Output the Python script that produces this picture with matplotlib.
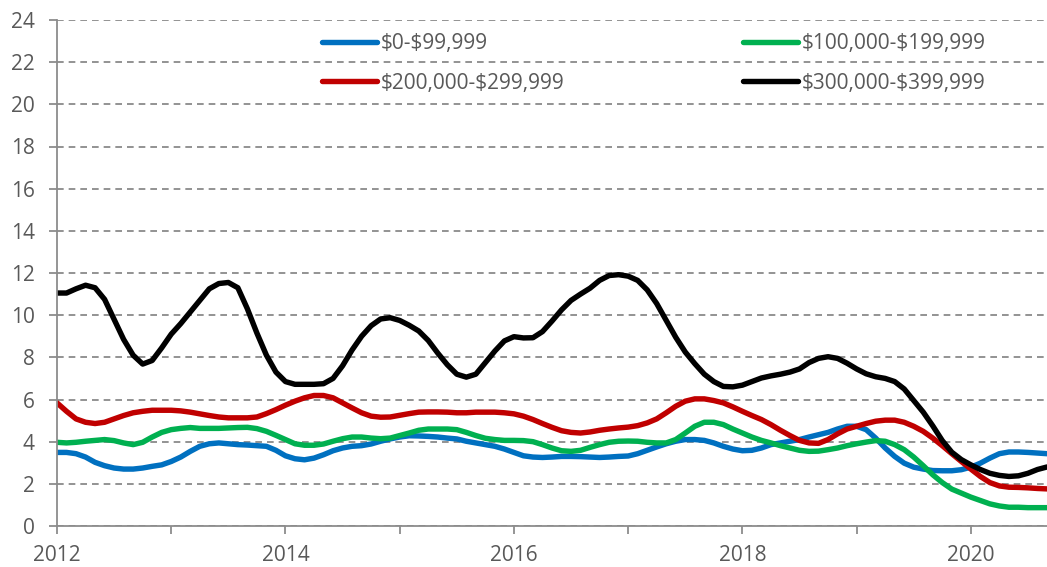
import matplotlib
matplotlib.use("Agg")
import matplotlib.pyplot as plt
import numpy as np
from matplotlib.ticker import MultipleLocator, FixedLocator

# monthly values, Jan 2012 .. Sep 2020
start_year = 2012
labels = ["$0-$99,999", "$100,000-$199,999", "$200,000-$299,999", "$300,000-$399,999"]

blue = [3.49, 3.49, 3.43, 3.27, 3.02, 2.86, 2.75, 2.70, 2.70, 2.75, 2.83, 2.90,
        3.06, 3.27, 3.54, 3.78, 3.90, 3.94, 3.90, 3.86, 3.84, 3.81, 3.78, 3.59,
        3.33, 3.19, 3.14, 3.22, 3.38, 3.57, 3.70, 3.78, 3.81, 3.89, 4.02, 4.13,
        4.22, 4.28, 4.27, 4.25, 4.22, 4.17, 4.13, 4.02, 3.94, 3.86, 3.78, 3.65,
        3.49, 3.33, 3.27, 3.25, 3.27, 3.30, 3.30, 3.29, 3.27, 3.25, 3.27, 3.30,
        3.32, 3.43, 3.59, 3.75, 3.90, 4.02, 4.10, 4.10, 4.06, 3.94, 3.78, 3.65,
        3.57, 3.59, 3.70, 3.86, 3.94, 4.02, 4.10, 4.22, 4.33, 4.44, 4.60, 4.73,
        4.73, 4.57, 4.17, 3.70, 3.30, 2.98, 2.79, 2.70, 2.63, 2.62, 2.62, 2.67,
        2.79, 2.98, 3.22, 3.43, 3.51, 3.51, 3.49, 3.46, 3.43]

green = [3.97, 3.94, 3.97, 4.02, 4.06, 4.10, 4.05, 3.94, 3.86, 3.97, 4.22, 4.44,
         4.57, 4.63, 4.67, 4.63, 4.63, 4.63, 4.65, 4.67, 4.68, 4.62, 4.49, 4.30,
         4.10, 3.90, 3.83, 3.83, 3.89, 4.02, 4.14, 4.22, 4.22, 4.17, 4.14, 4.17,
         4.29, 4.41, 4.54, 4.60, 4.60, 4.60, 4.57, 4.44, 4.29, 4.16, 4.10, 4.06,
         4.06, 4.05, 4.00, 3.86, 3.70, 3.57, 3.54, 3.59, 3.73, 3.86, 3.97, 4.02,
         4.03, 4.02, 3.97, 3.94, 3.94, 4.10, 4.41, 4.73, 4.92, 4.92, 4.81, 4.60,
         4.41, 4.22, 4.06, 3.94, 3.81, 3.70, 3.59, 3.54, 3.55, 3.62, 3.70, 3.81,
         3.90, 3.98, 4.05, 4.02, 3.86, 3.62, 3.27, 2.86, 2.43, 2.06, 1.75, 1.56,
         1.37, 1.21, 1.05, 0.95, 0.89, 0.89, 0.87, 0.87, 0.87]

red = [5.84, 5.44, 5.08, 4.92, 4.86, 4.92, 5.08, 5.24, 5.37, 5.44, 5.49, 5.49,
       5.49, 5.46, 5.40, 5.32, 5.24, 5.17, 5.13, 5.13, 5.13, 5.17, 5.33, 5.52,
       5.73, 5.92, 6.08, 6.19, 6.19, 6.08, 5.84, 5.60, 5.37, 5.21, 5.16, 5.17,
       5.25, 5.33, 5.40, 5.41, 5.41, 5.40, 5.37, 5.37, 5.40, 5.40, 5.40, 5.37,
       5.32, 5.21, 5.05, 4.86, 4.68, 4.52, 4.44, 4.41, 4.46, 4.54, 4.60, 4.65,
       4.69, 4.76, 4.89, 5.08, 5.37, 5.68, 5.92, 6.03, 6.03, 5.95, 5.84, 5.65,
       5.44, 5.24, 5.05, 4.81, 4.54, 4.29, 4.06, 3.94, 3.92, 4.10, 4.37, 4.60,
       4.73, 4.86, 4.97, 5.02, 5.02, 4.92, 4.73, 4.49, 4.17, 3.81, 3.43, 3.06,
       2.70, 2.35, 2.06, 1.90, 1.84, 1.83, 1.81, 1.78, 1.76]

black = [11.05, 11.05, 11.25, 11.42, 11.30, 10.75, 9.80, 8.85, 8.10, 7.68, 7.85, 8.45,
         9.10, 9.60, 10.15, 10.70, 11.25, 11.50, 11.55, 11.30, 10.30, 9.15, 8.10, 7.30,
         6.85, 6.72, 6.72, 6.72, 6.75, 7.00, 7.60, 8.35, 9.00, 9.50, 9.82, 9.88,
         9.75, 9.52, 9.25, 8.80, 8.20, 7.65, 7.20, 7.06, 7.20, 7.75, 8.30, 8.78,
         8.98, 8.92, 8.93, 9.22, 9.72, 10.25, 10.70, 11.00, 11.28, 11.65, 11.88, 11.92,
         11.85, 11.65, 11.20, 10.55, 9.75, 8.95, 8.25, 7.70, 7.20, 6.85, 6.62, 6.60,
         6.68, 6.85, 7.02, 7.12, 7.20, 7.30, 7.45, 7.75, 7.95, 8.03, 7.95, 7.72,
         7.45, 7.22, 7.08, 7.00, 6.85, 6.50, 5.95, 5.40, 4.75, 4.05, 3.50, 3.15,
         2.90, 2.68, 2.50, 2.40, 2.35, 2.38, 2.50, 2.68, 2.80]

colors = ["#0070C0", "#00B050", "#C00000", "#000000"]
series = [blue, green, red, black]

plt.rcParams["text.parse_math"] = False
font = ["Open Sans", "DejaVu Sans"]

x = start_year + np.arange(len(blue)) / 12.0

fig = plt.figure(figsize=(10.47, 5.67), dpi=100)
ax = fig.add_axes([57/1047, 1 - 526/567, 1 - 57/1047, (526 - 20)/567])

handles = []
for vals, c, lab in zip(series, colors, labels):
    h, = ax.plot(x, vals, color=c, lw=3.9, label=lab, solid_joinstyle="round",
                 solid_capstyle="round")
    handles.append(h)

ax.set_xlim(2012, start_year + (len(blue) - 1) / 12.0)
ax.set_ylim(0, 24)
ax.yaxis.set_major_locator(MultipleLocator(2))
ax.xaxis.set_major_locator(FixedLocator([2012, 2014, 2016, 2018, 2020]))
ax.xaxis.set_minor_locator(FixedLocator([2013, 2015, 2017, 2019]))
ax.set_xticklabels(["2012", "2014", "2016", "2018", "2020"])

ax.grid(axis="y", color="#808080", linestyle=(0, (4, 3)), linewidth=1.2)
ax.set_axisbelow(True)

for s in ["top", "right"]:
    ax.spines[s].set_visible(False)
for s in ["left", "bottom"]:
    ax.spines[s].set_color("#8c8c8c")
    ax.spines[s].set_linewidth(1.3)

ax.tick_params(axis="both", which="both", colors="#8c8c8c", labelcolor="#595959",
               labelsize=15, direction="out", width=1.3)
ax.tick_params(axis="y", length=6, pad=10)
ax.tick_params(axis="x", which="major", length=6, pad=8)
ax.tick_params(axis="x", which="minor", length=6)
for lab in ax.get_xticklabels() + ax.get_yticklabels():
    lab.set_family(font)

order = [0, 2, 1, 3]
leg = ax.legend([handles[i] for i in order], [labels[i] for i in order],
                ncol=2, loc="upper left", bbox_to_anchor=((322 - 57) / 990, (526 - 33) / 506),
                frameon=False, handlelength=2.65, handletextpad=0.15,
                borderaxespad=0, borderpad=0,
                columnspacing=8.6, labelspacing=0.9,
                prop={"family": font, "size": 15})
for t in leg.get_texts():
    t.set_color("#595959")

fig.savefig("out.png", dpi=100)
